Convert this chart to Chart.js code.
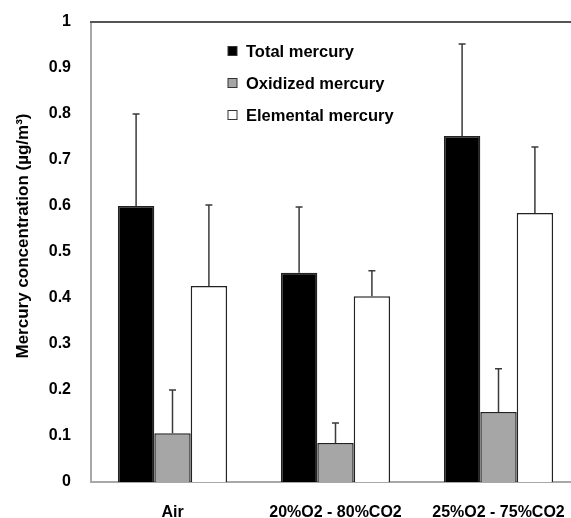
<!DOCTYPE html>
<html>
<head>
<meta charset="utf-8">
<script src="https://cdn.jsdelivr.net/npm/chart.js@4/dist/chart.umd.min.js"></script>
<style>
  html, body { margin: 0; padding: 0; background: #fff; overflow: hidden; }
  #wrap { position: relative; width: 580px; height: 518px; }
</style>
</head>
<body>
<div id="wrap"><canvas id="myChart"></canvas></div>
<script>
// data
const categories = ["Air", "20%O2 - 80%CO2", "25%O2 - 75%CO2"];
const totalHg = [0.6, 0.455, 0.752];
const totalErr = [0.2, 0.143, 0.2];
const oxidizedHg = [0.106, 0.085, 0.152];
const oxidizedErr = [0.094, 0.043, 0.094];
const elementalHg = [0.426, 0.404, 0.585];
const elementalErr = [0.176, 0.055, 0.143];
const yTicks = [0, 0.1, 0.2, 0.3, 0.4, 0.5, 0.6, 0.7, 0.8, 0.9, 1];
const yTitle = "Mercury concentration (µg/m³)";

const FONT = "'Liberation Sans', Arial, sans-serif";

// upward error bars
const errorBars = {
  id: 'errorBars',
  afterDatasetsDraw(chart) {
    const ctx = chart.ctx;
    const y = chart.scales.y;
    ctx.save();
    ctx.strokeStyle = '#3a3a3a';
    ctx.lineWidth = 1.5;
    chart.data.datasets.forEach((ds, i) => {
      const meta = chart.getDatasetMeta(i);
      meta.data.forEach((bar, j) => {
        const top = y.getPixelForValue(ds.data[j] + ds.errors[j]);
        ctx.beginPath();
        ctx.moveTo(bar.x, bar.y);
        ctx.lineTo(bar.x, top);
        ctx.moveTo(bar.x - 3.5, top);
        ctx.lineTo(bar.x + 3.5, top);
        ctx.stroke();
      });
    });
    ctx.restore();
  }
};

// legend inside plot, top frame line, y title (sits a bit above centre in the original)
const insideLegend = {
  id: 'insideLegend',
  afterDraw(chart) {
    const ctx = chart.ctx;
    const a = chart.chartArea;
    ctx.save();
    ctx.strokeStyle = '#555';
    ctx.lineWidth = 2;
    ctx.beginPath();
    ctx.moveTo(a.left - 1, a.top);
    ctx.lineTo(a.right, a.top);
    ctx.stroke();

    ctx.font = 'bold 16.5px ' + FONT;
    ctx.textBaseline = 'middle';
    chart.data.datasets.forEach((ds, i) => {
      const yy = 51 + i * 32;
      ctx.fillStyle = ds.backgroundColor;
      ctx.fillRect(228, yy - 4.5, 9, 9);
      ctx.strokeStyle = '#333';
      ctx.lineWidth = 1;
      ctx.strokeRect(228, yy - 4.5, 9, 9);
      ctx.fillStyle = '#000';
      ctx.fillText(ds.label, 246, yy + 1);
    });

    ctx.translate(23, 236);
    ctx.rotate(-Math.PI / 2);
    ctx.font = 'bold 17px ' + FONT;
    ctx.textAlign = 'center';
    ctx.fillText(yTitle, 0, 0);
    ctx.restore();
  }
};

new Chart("myChart", {
  type: "bar",
  data: {
    labels: categories,
    datasets: [
      { label: "Total mercury", data: totalHg, errors: totalErr,
        backgroundColor: "#000", borderColor: "#222", borderWidth: 1.5 },
      { label: "Oxidized mercury", data: oxidizedHg, errors: oxidizedErr,
        backgroundColor: "#a6a6a6", borderColor: "#222", borderWidth: 1.5 },
      { label: "Elemental mercury", data: elementalHg, errors: elementalErr,
        backgroundColor: "#fff", borderColor: "#222", borderWidth: 1.5 }
    ]
  },
  options: {
    responsive: true,
    maintainAspectRatio: false,
    animation: false,
    layout: { padding: { top: 22, left: 0, right: 0, bottom: 0 } },
    datasets: { bar: { barPercentage: 1, categoryPercentage: 0.67 } },
    plugins: { legend: { display: false }, tooltip: { enabled: false } },
    scales: {
      x: {
        afterFit(s) { s.height = 36; s.paddingLeft = 0; s.paddingRight = 0; },
        grid: { display: false, drawTicks: false },
        border: { display: true, color: '#a8a8a8', width: 2 },
        ticks: { color: '#000', padding: 21, font: { family: FONT, size: 16, weight: 'bold' } }
      },
      y: {
        min: 0, max: 1,
        afterFit(s) { s.width = 91; s.paddingTop = 0; s.paddingBottom = 0; },
        afterBuildTicks(scale) { scale.ticks = yTicks.map(v => ({ value: v })); },
        grid: { display: false, drawTicks: false },
        border: { display: true, color: '#a8a8a8', width: 2 },
        ticks: {
          color: '#000', padding: 20,
          font: { family: FONT, size: 16, weight: 'bold' },
          callback: v => String(+v.toFixed(1))
        }
      }
    }
  },
  plugins: [errorBars, insideLegend]
});
</script>
</body>
</html>
